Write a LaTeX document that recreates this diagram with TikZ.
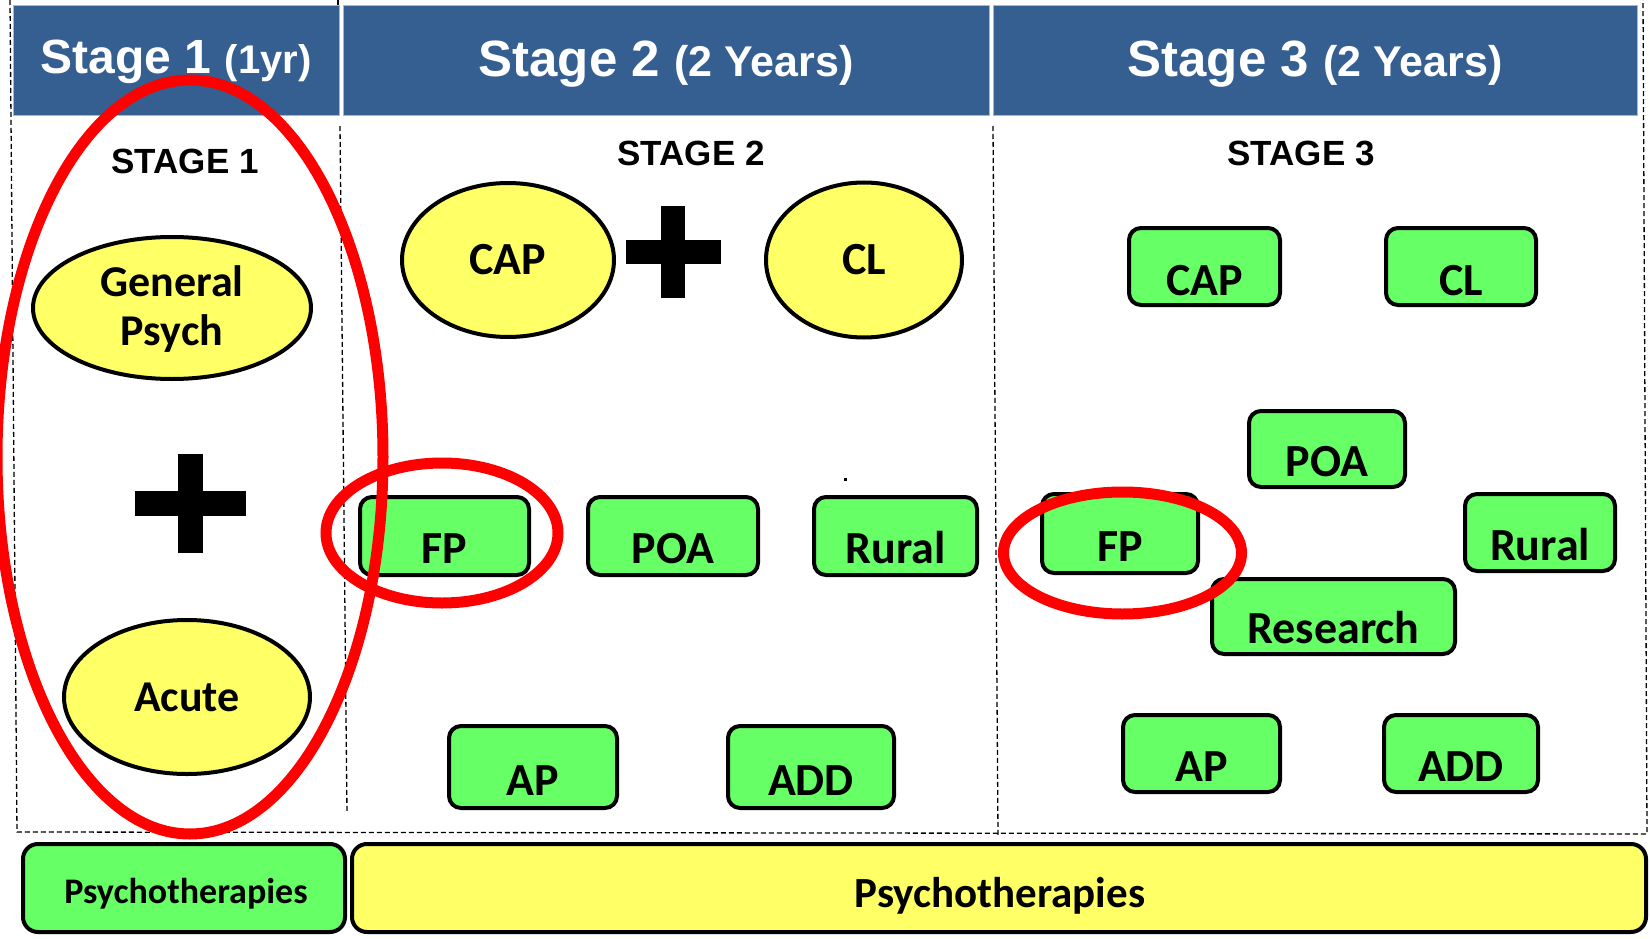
\documentclass[tikz,border=0pt]{standalone}
\usepackage{fontspec}
\setmainfont{Carlito}
\newfontfamily\arialf{Liberation Sans}
\usetikzlibrary{shapes.geometric}
\definecolor{hdr}{HTML}{365F91}
\definecolor{grn}{HTML}{66FF66}
\definecolor{ylw}{HTML}{FFFF66}
\definecolor{rd}{HTML}{FF0000}
\begin{document}
\begin{tikzpicture}[x=1pt,y=-1pt,
  hdrbox/.style={fill=hdr, draw=hdr!45!white, line width=1pt, inner sep=0, minimum height=110pt},
  hdrtxt/.style={text=white, anchor=base, inner sep=0, font=\arialf\bfseries},
  stagetxt/.style={anchor=base, inner sep=0, font=\arialf\bfseries\fontsize{35}{40}\selectfont},
  gbox/.style={fill=grn, draw=black, line width=4pt, rounded corners=12pt, inner sep=0},
  yell/.style={ellipse, fill=ylw, draw=black, line width=4pt, inner sep=0},
  lbl/.style={anchor=base, inner sep=0, font=\bfseries\fontsize{46}{50}\selectfont},
  elbl/.style={inner sep=0, align=center, font=\bfseries\fontsize{44}{49}\selectfont},
  ring/.style={ellipse, draw=rd, line width=11pt, inner sep=0},
  divider/.style={draw=black, line width=1.3pt, dash pattern=on 5pt off 3pt},
  plusbar/.style={fill=black, inner sep=0}
]
\useasboundingbox (0,0) rectangle (1650,939);
\fill[white] (0,0) rectangle (1650,939);

% dashed frame and column dividers
\coordinate (ftl) at (10,0);
\coordinate (fbl) at (17,832);
\coordinate (fbr) at (1647,834);
\coordinate (ftr) at (1643,0);
\coordinate (d1t) at (340,126);
\coordinate (d1b) at (347,813);
\coordinate (d2t) at (993,126);
\coordinate (d2b) at (998,836);
\coordinate (tick1) at (338,0);
\coordinate (tick2) at (338,6);
\draw[divider] (ftl) -- (fbl) -- (fbr) -- (ftr);
\draw[divider] (d1t) -- (d1b);
\draw[divider] (d2t) -- (d2b);
\draw[divider] (tick1) -- (tick2);

% headers
\node[hdrbox, minimum width=326pt] (h1) at (176,60.5) {};
\node[hdrbox, minimum width=646pt] (h2) at (666,60.5) {};
\node[hdrbox, minimum width=644pt] (h3) at (1315,60.5) {};
\node[hdrtxt] (h1t) at (176,74) {\fontsize{48}{50}\selectfont Stage 1 \fontsize{40}{50}\selectfont(1yr)};
\node[hdrtxt] (h2t) at (666,77) {\fontsize{51}{55}\selectfont Stage 2 \fontsize{43}{50}\selectfont(2 Years)};
\node[hdrtxt] (h3t) at (1315,77) {\fontsize{51}{55}\selectfont Stage 3 \fontsize{43}{50}\selectfont(2 Years)};

% stage labels
\node[stagetxt] (s1) at (185,174) {STAGE 1};
\node[stagetxt] (s2) at (691,166) {STAGE 2};
\node[stagetxt] (s3) at (1301,166) {STAGE 3};

% column 1
\node[yell, minimum width=278pt, minimum height=142pt] (gp) at (172,308) {};
\node[elbl] (gpt) at (172,309) {General\\Psych};
\node[plusbar, minimum width=111pt, minimum height=25pt] (p1h) at (190,503) {};
\node[plusbar, minimum width=25pt, minimum height=99pt] (p1v) at (190,503) {};
\node[yell, minimum width=246pt, minimum height=154pt] (ac) at (187,697) {};
\node[elbl] (act) at (187,697) {Acute};

% column 2
\node[yell, minimum width=212pt, minimum height=154pt] (cap2) at (508,260) {};
\node[elbl, font=\bfseries\fontsize{46}{50}\selectfont] (cap2t) at (508,260) {CAP};
\node[plusbar, minimum width=95pt, minimum height=24pt] (p2h) at (673,252) {};
\node[plusbar, minimum width=24pt, minimum height=92pt] (p2v) at (673,252) {};
\node[yell, minimum width=196pt, minimum height=155pt] (cl2) at (864,260) {};
\node[elbl, font=\bfseries\fontsize{46}{50}\selectfont] (cl2t) at (864,260) {CL};

\node[gbox, minimum width=169pt, minimum height=78pt] (fp2) at (444.5,536) {};
\node[lbl] (fp2t) at (444.5,563) {FP};
\node[gbox, minimum width=170pt, minimum height=78pt] (poa2) at (673,536) {};
\node[lbl] (poa2t) at (673,563) {POA};
\node[gbox, minimum width=163pt, minimum height=78pt] (rur2) at (895.5,536) {};
\node[lbl] (rur2t) at (895.5,563) {Rural};
\node[fill=black, inner sep=0, minimum size=3pt] (dot) at (845,479) {};
\node[gbox, minimum width=168pt, minimum height=82pt] (ap2) at (533,767) {};
\node[lbl] (ap2t) at (533,795) {AP};
\node[gbox, minimum width=166pt, minimum height=82pt] (add2) at (811,767) {};
\node[lbl] (add2t) at (811,795) {ADD};

% column 3
\node[gbox, minimum width=151pt, minimum height=77pt] (cap3) at (1204.5,266.5) {};
\node[lbl] (cap3t) at (1204.5,295) {CAP};
\node[gbox, minimum width=150pt, minimum height=77pt] (cl3) at (1461,266.5) {};
\node[lbl] (cl3t) at (1461,295) {CL};
\node[gbox, minimum width=156pt, minimum height=76pt] (poa3) at (1327,449) {};
\node[lbl] (poa3t) at (1327,476) {POA};
\node[gbox, minimum width=156pt, minimum height=79pt] (fp3) at (1120,533.5) {};
\node[lbl] (fp3t) at (1120,561) {FP};
\node[gbox, minimum width=150pt, minimum height=77pt] (rur3) at (1540,532.5) {};
\node[lbl] (rur3t) at (1540,560) {Rural};
\node[gbox, minimum width=243pt, minimum height=75pt] (res3) at (1333.5,616.5) {};
\node[lbl] (res3t) at (1333.5,643) {Research};
\node[gbox, minimum width=157pt, minimum height=77pt] (ap3) at (1201.5,753.5) {};
\node[lbl] (ap3t) at (1201.5,781) {AP};
\node[gbox, minimum width=154pt, minimum height=77pt] (add3) at (1461,753.5) {};
\node[lbl] (add3t) at (1461,781) {ADD};

% bottom bars
\node[gbox, rounded corners=15pt, minimum width=322pt, minimum height=88pt] (psy1) at (184,888) {};
\node[lbl, font=\bfseries\fontsize{36}{40}\selectfont] (psy1t) at (186,903) {Psychotherapies};
\node[gbox, fill=ylw, rounded corners=15pt, minimum width=1294pt, minimum height=88pt] (psy2) at (999,888) {};
\node[lbl, font=\bfseries\fontsize{43}{48}\selectfont] (psy2t) at (1000,907) {Psychotherapies};

% red rings
\node[ring, minimum width=386pt, minimum height=754pt] (ring1) at (190,457) {};
\node[ring, minimum width=232pt, minimum height=140pt] (ring2) at (442,533) {};
\node[ring, minimum width=238pt, minimum height=122pt] (ring3) at (1122.5,553) {};
\end{tikzpicture}
\end{document}
